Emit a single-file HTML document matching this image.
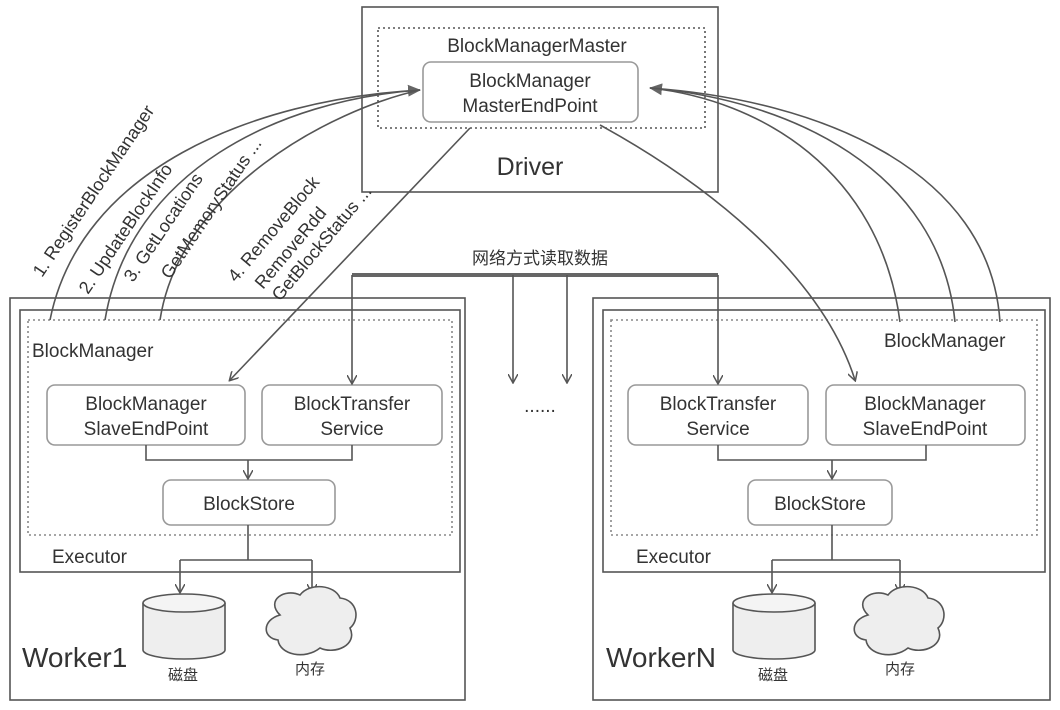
<!DOCTYPE html>
<html><head><meta charset="utf-8"><style>body{margin:0;background:#fff}svg{display:block}text{font-family:"Liberation Sans","Noto Sans CJK SC",sans-serif;fill:#333}</style></head>
<body>
<svg width="1060" height="710" viewBox="0 0 1060 710" xmlns="http://www.w3.org/2000/svg">
<defs><marker id="a" markerWidth="10" markerHeight="10" refX="8" refY="5" orient="auto" markerUnits="userSpaceOnUse"><path d="M0,0 L9,5 L0,10" fill="none" stroke="#555" stroke-width="1.5"/></marker>
<marker id="f" markerWidth="14" markerHeight="12" refX="12" refY="6" orient="auto" markerUnits="userSpaceOnUse"><path d="M0,0 L13,6 L0,12z" fill="#666"/></marker></defs>
<g fill="none" stroke="#555" stroke-width="1.6">
<rect x="362" y="7" width="356" height="185"/>
<rect x="378" y="28" width="327" height="100" stroke-dasharray="2,3"/>
<rect x="423" y="62" width="215" height="60" rx="8" stroke="#999"/>
<rect x="10" y="298" width="455" height="402"/>
<rect x="20" y="310" width="440" height="262"/>
<rect x="28" y="320" width="424" height="215" stroke-dasharray="2,3" stroke="#888"/>
<rect x="47" y="385" width="198" height="60" rx="8" stroke="#999"/>
<rect x="262" y="385" width="180" height="60" rx="8" stroke="#999"/>
<rect x="163" y="480" width="172" height="45" rx="8" stroke="#999"/>
<rect x="593" y="298" width="457" height="402"/>
<rect x="603" y="310" width="442" height="262"/>
<rect x="611" y="320" width="426" height="215" stroke-dasharray="2,3" stroke="#888"/>
<rect x="628" y="385" width="180" height="60" rx="8" stroke="#999"/>
<rect x="826" y="385" width="199" height="60" rx="8" stroke="#999"/>
<rect x="748" y="480" width="144" height="45" rx="8" stroke="#999"/>
<path d="M146,445V460H352V445"/><path d="M248,460V478" marker-end="url(#a)"/>
<path d="M248,525V560H180M248,560H312"/>
<path d="M180,560V592" marker-end="url(#a)"/><path d="M312,560V592" marker-end="url(#a)"/>
<path d="M718,445V460H926V445"/><path d="M832,460V478" marker-end="url(#a)"/>
<path d="M832,525V560H772M832,560H900"/>
<path d="M772,560V592" marker-end="url(#a)"/><path d="M900,560V592" marker-end="url(#a)"/>
<path d="M352,275H718" stroke-width="4" stroke="#666"/>
<path d="M352,275V383" marker-end="url(#a)"/><path d="M718,275V383" marker-end="url(#a)"/>
<path d="M513,275V382" marker-end="url(#a)"/><path d="M567,275V382" marker-end="url(#a)"/>
<path d="M50,320C80,170 250,100 420,90" marker-end="url(#f)"/>
<path d="M105,320C130,170 280,100 420,90"/>
<path d="M160,320C180,190 330,110 420,90"/>
<path d="M470,128L230,380" marker-end="url(#a)"/>
<path d="M900,322C880,170 760,100 650,88" marker-end="url(#f)"/>
<path d="M955,322C940,170 790,100 650,88"/>
<path d="M1000,322C990,170 820,100 650,88"/>
<path d="M600,125C700,180 820,270 855,380" marker-end="url(#a)"/>
<path d="M143,603V650A41,9 0 0 0 225,650V603" fill="#eee"/>
<ellipse cx="184" cy="603" rx="41" ry="9" fill="#f4f4f4"/>
<path d="M280,615C265,600 285,588 300,595C310,582 335,585 340,598C358,600 360,620 350,628C358,645 335,655 320,648C305,660 280,655 278,640C262,638 262,620 280,615Z" fill="#eee"/>
<path d="M733,603V650A41,9 0 0 0 815,650V603" fill="#eee"/>
<ellipse cx="774" cy="603" rx="41" ry="9" fill="#f4f4f4"/>
<path d="M868,615C853,600 873,588 888,595C898,582 923,585 928,598C946,600 948,620 938,628C946,645 923,655 908,648C893,660 868,655 866,640C850,638 850,620 868,615Z" fill="#eee"/>
</g>
<g font-size="19" text-anchor="middle">
<text x="537" y="52">BlockManagerMaster</text>
<text x="530" y="87">BlockManager</text><text x="530" y="112">MasterEndPoint</text>
<text x="530" y="175" font-size="25">Driver</text>
<text x="146" y="410">BlockManager</text><text x="146" y="435">SlaveEndPoint</text>
<text x="352" y="410">BlockTransfer</text><text x="352" y="435">Service</text>
<text x="249" y="510">BlockStore</text>
<text x="718" y="410">BlockTransfer</text><text x="718" y="435">Service</text>
<text x="925" y="410">BlockManager</text><text x="925" y="435">SlaveEndPoint</text>
<text x="820" y="510">BlockStore</text>
<text x="540" y="264" font-size="17">网络方式读取数据</text>
<text x="540" y="412">......</text>
<text x="183" y="680" font-size="15">磁盘</text><text x="310" y="674" font-size="15">内存</text>
<text x="773" y="680" font-size="15">磁盘</text><text x="900" y="674" font-size="15">内存</text>
</g>
<g font-size="19">
<text x="32" y="357">BlockManager</text>
<text x="884" y="347">BlockManager</text>
<text x="52" y="563">Executor</text><text x="636" y="563">Executor</text>
<text x="22" y="667" font-size="28">Worker1</text><text x="606" y="667" font-size="28">WorkerN</text>
</g>
<g font-size="18">
<text transform="translate(42,278) rotate(-56)">1. RegisterBlockManager</text>
<text transform="translate(88,295) rotate(-56)">2. UpdateBlockInfo</text>
<text transform="translate(133,283) rotate(-56)">3. GetLocations</text>
<text transform="translate(170,280) rotate(-56)">GetMemoryStatus ...</text>
<text transform="translate(236,283) rotate(-50)">4. RemoveBlock</text>
<text transform="translate(263,290) rotate(-50)">RemoveRdd</text>
<text transform="translate(280,302) rotate(-50)">GetBlockStatus ...</text>
</g>
</svg>
</body></html>
